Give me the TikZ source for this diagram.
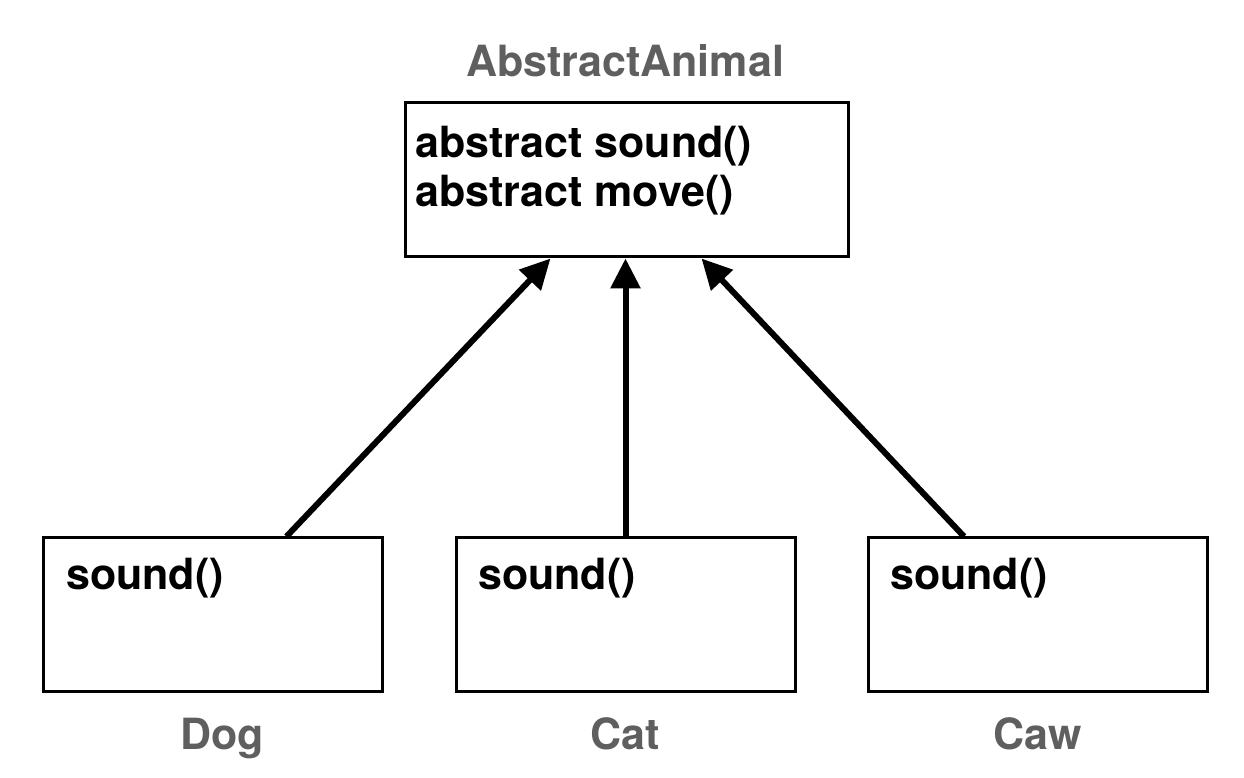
\documentclass[tikz,border=0pt]{standalone}
\usepackage{fontspec}
\setmainfont{TeX Gyre Heros}
\usetikzlibrary{arrows.meta,calc}
\definecolor{labelgray}{RGB}{95,95,95}

\begin{document}
\begin{tikzpicture}
	[x=1pt,y=1pt,every node/.style={inner sep=0pt}]
	\tikzstyle{classbox} = [draw, line width=3pt, rectangle, minimum height=154pt];
	\tikzstyle{member} = [anchor=base west, font=\fontsize{43}{50}\selectfont\bfseries];
	\tikzstyle{classname} = [anchor=base, text=labelgray, font=\fontsize{43}{50}\selectfont\bfseries];
	\tikzstyle{inherit} = [line width=6pt, -{Triangle[length=30pt,width=29pt]}];
	
	\useasboundingbox (0,0) rectangle (1244,778);
	
	% parent class
	\node[classname] (tname) at (625,701) {AbstractAnimal};
	\node[classbox, minimum width=443pt] (top) at (626.5,598) {};
	\node[member] (tm1) at (415,620) {abstract sound()};
	\node[member] (tm2) at (415,571) {abstract move()};
	
	% subclasses
	\node[classbox, minimum width=339pt] (dog) at (212.5,163) {};
	\node[classbox, minimum width=339pt] (cat) at (625.5,163) {};
	\node[classbox, minimum width=339pt] (caw) at (1038,163) {};
	\node[member] (dm) at (66,188) {sound()};
	\node[member] (cm) at (478,188) {sound()};
	\node[member] (wm) at (890,188) {sound()};
	\node[classname] (dname) at (222,28) {Dog};
	\node[classname] (cname) at (625,28) {Cat};
	\node[classname] (wname) at (1038,28) {Caw};
	
	\draw[inherit] ($(dog.north west)+(245,0)$) -- ($(top.south west)+(147,0)$);
	\draw[inherit] (cat.north) -- (cat.north |- top.south);
	\draw[inherit] ($(caw.north west)+(97,0)$) -- ($(top.south west)+(298,0)$);
\end{tikzpicture}
\end{document}
